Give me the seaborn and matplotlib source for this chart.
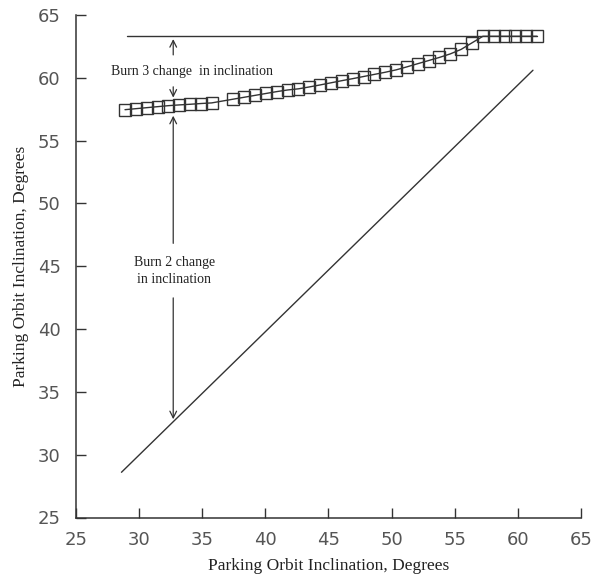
import matplotlib
matplotlib.use("Agg")
import matplotlib.pyplot as plt
import seaborn as sns
import pandas as pd

# ---- data ----
total_x = [28.88, 29.74, 30.60, 31.46, 32.32, 33.18, 34.03, 34.89, 35.75,
           37.47, 38.33, 39.19, 40.05, 40.91, 41.77, 42.62, 43.48, 44.34,
           45.20, 46.06, 46.92, 47.78, 48.64, 49.50, 50.36, 51.22, 52.07,
           52.93, 53.79, 54.65, 55.51, 56.37, 57.23, 58.09, 58.95, 59.81,
           60.66, 61.52]
total_y = [57.46, 57.54, 57.62, 57.70, 57.78, 57.84, 57.89, 57.95, 58.00,
           58.30, 58.45, 58.60, 58.75, 58.90, 59.03, 59.12, 59.27, 59.43,
           59.60, 59.77, 59.93, 60.10, 60.27, 60.44, 60.63, 60.87, 61.12,
           61.37, 61.62, 61.90, 62.26, 62.78, 63.30, 63.30, 63.30, 63.30,
           63.30, 63.30]
target_x = [29.0, 61.5]
target_y = [63.3, 63.3]
park_x = [28.6, 61.2]
park_y = [28.6, 60.6]
ticks = [25, 30, 35, 40, 45, 50, 55, 60, 65]
xlabel = "Parking Orbit Inclination, Degrees"
ylabel = "Parking Orbit Inclination, Degrees"
burn3_text = "Burn 3 change  in inclination"
burn2_text = "Burn 2 change\nin inclination"

sns.set_theme(style="ticks")
plt.rcParams["font.family"] = ["DejaVu Sans"]

fig = plt.figure(figsize=(5.94, 5.75), dpi=100)
ax = fig.add_axes([0.128, 0.10, 0.850, 0.874])

ink = "#333333"
sns.lineplot(x=target_x, y=target_y, ax=ax, color=ink, lw=1.0)
sns.lineplot(x=park_x, y=park_y, ax=ax, color=ink, lw=1.0)
sns.lineplot(x=total_x, y=total_y, ax=ax, color=ink, lw=1.0,
             marker="s", markersize=8.5, markerfacecolor="none",
             markeredgecolor=ink, markeredgewidth=1.0)

ax.set_xlim(25, 65)
ax.set_ylim(25, 65)
ax.set_xticks(ticks)
ax.set_yticks(ticks)
ax.set_xticklabels([str(t) for t in ticks])
ax.set_yticklabels([str(t) for t in ticks])
ax.tick_params(direction="in", length=7, width=1.0, colors=ink,
               labelsize=13, labelcolor="#555555")
ax.tick_params(axis="y", pad=11)
ax.tick_params(axis="x", pad=10)
sns.despine(ax=ax)
for s in ("left", "bottom"):
    ax.spines[s].set_color(ink)
    ax.spines[s].set_linewidth(1.1)

serif = ["Liberation Serif", "DejaVu Serif"]
ax.set_xlabel(xlabel, family=serif, fontsize=12.5, color="#222222", labelpad=6)
ax.set_ylabel(ylabel, family=serif, fontsize=12.5, color="#222222", labelpad=6)

# annotations
ax.text(34.2, 60.5, burn3_text, family=serif, fontsize=10, color="#222222",
        ha="center", va="center")
ax.annotate("", xy=(32.7, 63.3), xytext=(32.7, 61.6),
            arrowprops=dict(arrowstyle="->", lw=0.9, color=ink))
ax.annotate("", xy=(32.7, 58.2), xytext=(32.7, 59.5),
            arrowprops=dict(arrowstyle="->", lw=0.9, color=ink))

ax.text(32.8, 44.6, burn2_text, family=serif, fontsize=10, color="#222222",
        ha="center", va="center", linespacing=1.4)
ax.annotate("", xy=(32.7, 57.2), xytext=(32.7, 46.6),
            arrowprops=dict(arrowstyle="->", lw=0.9, color=ink))
ax.annotate("", xy=(32.7, 32.6), xytext=(32.7, 42.7),
            arrowprops=dict(arrowstyle="->", lw=0.9, color=ink))

fig.savefig("out.png", dpi=100)
